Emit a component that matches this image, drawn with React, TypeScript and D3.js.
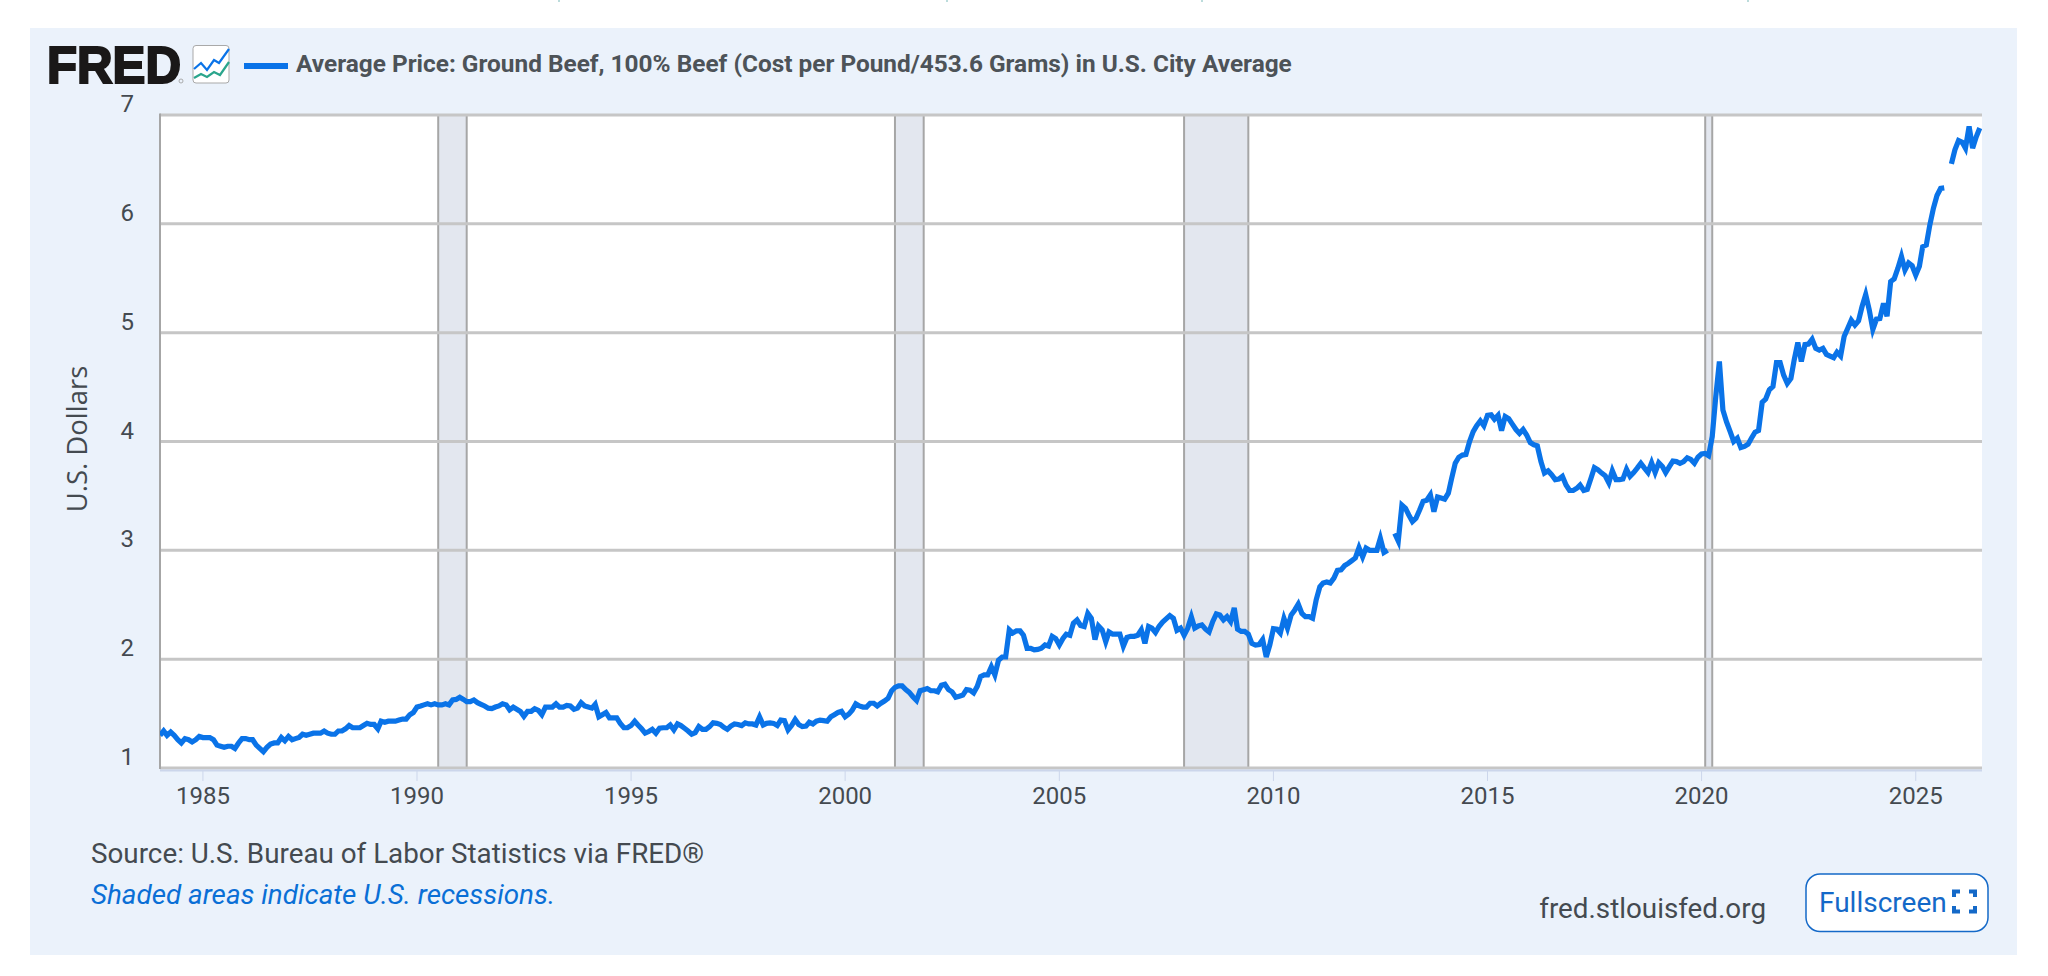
import React from 'react';
import * as d3 from 'd3';

const titleText = 'Average Price: Ground Beef, 100% Beef (Cost per Pound/453.6 Grams) in U.S. City Average';
const sourceText = 'Source: U.S. Bureau of Labor Statistics via FRED®';
const noteText = 'Shaded areas indicate U.S. recessions.';

const yTicks = [1, 2, 3, 4, 5, 6, 7];
const xTickYears = [1985, 1990, 1995, 2000, 2005, 2010, 2015, 2020, 2025];

// NBER recessions, [start, end] as yyyy-mm
const recessions = [
  ['1990-07', '1991-03'],
  ['2001-03', '2001-11'],
  ['2007-12', '2009-06'],
  ['2020-02', '2020-04'],
];

// monthly prices starting at Jan of the first year, one row per year
const prices1980s = [
  1.30, 1.34, 1.30, 1.33, 1.30, 1.26, 1.23, 1.27, 1.26, 1.24, 1.26, 1.29,
  1.28, 1.28, 1.28, 1.26, 1.21, 1.20, 1.19, 1.20, 1.20, 1.18, 1.23, 1.27,
  1.27, 1.26, 1.26, 1.21, 1.18, 1.15, 1.19, 1.22, 1.23, 1.23, 1.28, 1.25,
  1.29, 1.26, 1.27, 1.28, 1.31, 1.30, 1.31, 1.32, 1.32, 1.32, 1.34, 1.32,
  1.31, 1.31, 1.34, 1.34, 1.36, 1.39, 1.37, 1.37, 1.37, 1.39, 1.41, 1.40,
  1.40, 1.36, 1.43, 1.42, 1.43, 1.43, 1.43, 1.44, 1.45, 1.45, 1.49, 1.51,
];
const prices1990s = [
  1.56, 1.57, 1.58, 1.59, 1.58, 1.59, 1.58, 1.58, 1.59, 1.58, 1.625, 1.63,
  1.65, 1.63, 1.61, 1.61, 1.625, 1.60, 1.585, 1.57, 1.55, 1.545, 1.56, 1.57,
  1.59, 1.58, 1.535, 1.56, 1.54, 1.52, 1.475, 1.52, 1.52, 1.545, 1.53, 1.49,
  1.56, 1.56, 1.56, 1.59, 1.56, 1.56, 1.575, 1.57, 1.54, 1.55, 1.60, 1.57,
  1.56, 1.55, 1.585, 1.47, 1.49, 1.51, 1.46, 1.46, 1.46, 1.41, 1.37, 1.37,
  1.39, 1.43, 1.395, 1.36, 1.32, 1.335, 1.355, 1.32, 1.365, 1.37, 1.37, 1.395,
  1.35, 1.405, 1.39, 1.365, 1.34, 1.31, 1.325, 1.38, 1.355, 1.355, 1.38, 1.415,
  1.41, 1.40, 1.375, 1.355, 1.385, 1.405, 1.40, 1.39, 1.415, 1.405, 1.405, 1.395,
  1.47, 1.395, 1.41, 1.415, 1.41, 1.39, 1.44, 1.435, 1.35, 1.39, 1.445, 1.40,
  1.38, 1.385, 1.42, 1.405, 1.43, 1.44, 1.435, 1.43, 1.47, 1.49, 1.51, 1.52,
];
const prices2000s = [
  1.47, 1.495, 1.53, 1.59, 1.57, 1.56, 1.56, 1.595, 1.595, 1.57, 1.595, 1.615,
  1.64, 1.71, 1.74, 1.755, 1.755, 1.72, 1.695, 1.655, 1.62, 1.71, 1.72, 1.73,
  1.71, 1.71, 1.70, 1.76, 1.77, 1.72, 1.70, 1.65, 1.66, 1.67, 1.72, 1.715,
  1.69, 1.75, 1.84, 1.855, 1.855, 1.93, 1.855, 1.99, 2.02, 2.02, 2.27, 2.24,
  2.26, 2.26, 2.22, 2.10, 2.10, 2.085, 2.09, 2.10, 2.13, 2.12, 2.21, 2.19,
  2.13, 2.19, 2.23, 2.22, 2.33, 2.36, 2.31, 2.30, 2.42, 2.375, 2.18, 2.305,
  2.27, 2.16, 2.25, 2.23, 2.23, 2.23, 2.12, 2.20, 2.21, 2.21, 2.22, 2.27,
  2.145, 2.30, 2.285, 2.245, 2.30, 2.34, 2.37, 2.40, 2.375, 2.265, 2.285, 2.22,
  2.285, 2.39, 2.285, 2.305, 2.315, 2.275, 2.25, 2.345, 2.415, 2.405, 2.36, 2.39,
  2.345, 2.47, 2.275, 2.255, 2.255, 2.23, 2.145, 2.13, 2.135, 2.18, 2.02, 2.13,
];
// Oct 2012 and Oct 2025 have no observation
const prices2010s: (number | null)[] = [
  2.28, 2.275, 2.24, 2.375, 2.285, 2.405, 2.45, 2.505, 2.42, 2.39, 2.39, 2.375,
  2.545, 2.665, 2.70, 2.71, 2.70, 2.745, 2.815, 2.82, 2.86, 2.88, 2.905, 2.93,
  3.025, 2.94, 3.02, 3.00, 3.00, 3.00, 3.11, 2.98, 3.00, null, 3.155, 3.085,
  3.415, 3.385, 3.325, 3.265, 3.295, 3.37, 3.45, 3.46, 3.51, 3.355, 3.49, 3.48,
  3.47, 3.525, 3.66, 3.80, 3.855, 3.875, 3.88, 4.00, 4.09, 4.145, 4.19, 4.145,
  4.24, 4.245, 4.205, 4.24, 4.10, 4.23, 4.21, 4.16, 4.11, 4.075, 4.11, 4.06,
  3.99, 3.97, 3.96, 3.815, 3.71, 3.73, 3.695, 3.65, 3.655, 3.68, 3.60, 3.55,
  3.55, 3.57, 3.60, 3.55, 3.56, 3.66, 3.76, 3.74, 3.71, 3.685, 3.62, 3.73,
  3.65, 3.65, 3.655, 3.745, 3.68, 3.715, 3.755, 3.80, 3.755, 3.715, 3.805, 3.715,
  3.805, 3.77, 3.715, 3.77, 3.82, 3.815, 3.80, 3.815, 3.85, 3.835, 3.80, 3.855,
];
const prices2020s: (number | null)[] = [
  3.885, 3.89, 3.87, 4.045, 4.41, 4.735, 4.29, 4.18, 4.09, 4.00, 4.03, 3.945,
  3.955, 3.975, 4.03, 4.085, 4.10, 4.36, 4.39, 4.475, 4.505, 4.725, 4.725, 4.61,
  4.535, 4.58, 4.75, 4.91, 4.735, 4.89, 4.895, 4.94, 4.855, 4.84, 4.855, 4.80,
  4.785, 4.77, 4.82, 4.785, 4.965, 5.04, 5.115, 5.07, 5.11, 5.24, 5.35, 5.21,
  5.03, 5.125, 5.13, 5.27, 5.15, 5.47, 5.495, 5.59, 5.70, 5.575, 5.64, 5.615,
  5.53, 5.61, 5.79, 5.805, 5.99, 6.145, 6.26, 6.325, 6.33, null, 6.55, 6.68,
  6.765, 6.75, 6.695, 6.895, 6.695, 6.80, 6.88,
];

const prices: (number | null)[] = [...prices1980s, ...prices1990s, ...prices2000s, ...prices2010s, ...prices2020s];
const series = prices.map((value, i) => ({ date: new Date(1984, i, 1), value }));

const width = 2048;
const height = 976;
const plot = { left: 160, right: 1982, top: 115, bottom: 768 };

const parseMonth = d3.timeParse('%Y-%m');

const x = d3.scaleTime()
  .domain([new Date(1984, 0, 1), new Date(2026, 6, 20)])
  .range([plot.left, plot.right]);
const y = d3.scaleLinear().domain([1, 7]).range([plot.bottom, plot.top]);

const line = d3.line<{ date: Date; value: number | null }>()
  .defined(d => d.value !== null)
  .x(d => x(d.date))
  .y(d => y(d.value as number));

const sans = 'Roboto, sans-serif';
const open = '"Open Sans", sans-serif';
const lineColor = '#0a73e8';
const textColor = '#444a50';

const App: React.FC = () => (
  <svg width={width} height={height} style={{ position: 'absolute', left: 0, top: 0 }}>
    <rect width={width} height={height} fill="#ffffff" />
    {[559, 947, 1202, 1748].map(d => (
      <rect key={d} x={d - 1} y={0} width={2} height={2} fill="#bcdcdc" />
    ))}
    <rect x={30} y={28} width={1987} height={927} fill="#ebf2fb" />

    {/* header */}
    <text x={47} y={83} fontFamily='"Liberation Sans", sans-serif' fontWeight={700} fontSize={52}
      textLength={134} lengthAdjust="spacingAndGlyphs" stroke="#1a1818" strokeWidth={2.2} fill="#1a1818">FRED</text>
    <circle cx={181} cy={81} r={2} fill="none" stroke="#9a9a9a" strokeWidth={0.8} />
    <rect x={193} y={45.5} width={36} height={37.5} rx={3} fill="#ffffff" stroke="#a9a9a9" strokeWidth={1} />
    <path d="M194,69 L201,63 L207,70 L214,60 L219,63 L229,49" fill="none" stroke={lineColor} strokeWidth={2.2} />
    <path d="M194,78 L201,74 L207,77 L214,72 L220,75 L229,62" fill="none" stroke="#2aa58c" strokeWidth={2.2} />
    <rect x={244} y={63} width={44} height={6} fill={lineColor} />
    <text x={296} y={72} fontFamily={sans} fontWeight={700} fontSize={24.4} fill="#4d5358">{titleText}</text>

    {/* plot */}
    <rect x={plot.left} y={plot.top} width={plot.right - plot.left} height={plot.bottom - plot.top} fill="#ffffff" />
    {recessions.map(([start, end]) => {
      const x0 = x(parseMonth(start) as Date);
      const x1 = x(parseMonth(end) as Date);
      return (
        <g key={start}>
          <rect x={x0} y={plot.top} width={x1 - x0} height={plot.bottom - plot.top} fill="#e3e7ef" />
          <line x1={x0} x2={x0} y1={plot.top} y2={plot.bottom} stroke="#a6a6a6" strokeWidth={2} />
          <line x1={x1} x2={x1} y1={plot.top} y2={plot.bottom} stroke="#a6a6a6" strokeWidth={2} />
        </g>
      );
    })}
    {yTicks.map(t => (
      <g key={t}>
        <line x1={plot.left} x2={plot.right} y1={y(t)} y2={y(t)} stroke="#c6c6c6" strokeWidth={3} />
        <text x={134} y={y(t) - 3} textAnchor="end" fontFamily={sans} fontSize={24} fill={textColor}>{t}</text>
      </g>
    ))}
    <line x1={plot.left} x2={plot.left} y1={plot.top - 1.5} y2={plot.bottom + 1} stroke="#a6a6a6" strokeWidth={2} />
    <line x1={plot.left} x2={plot.right} y1={plot.bottom + 2.5} y2={plot.bottom + 2.5} stroke="#ccd6eb" strokeWidth={2} />
    {xTickYears.map(year => {
      const px = x(new Date(year, 0, 1));
      return (
        <g key={year}>
          <line x1={px} x2={px} y1={plot.bottom + 3} y2={plot.bottom + 13} stroke="#ccd6eb" strokeWidth={1} />
          <text x={px} y={804} textAnchor="middle" fontFamily={sans} fontSize={24} fill={textColor}>{year}</text>
        </g>
      );
    })}
    <text transform="translate(87,439) rotate(-90)" textAnchor="middle" fontFamily={open} fontSize={27.5} fill={textColor}>U.S. Dollars</text>

    <clipPath id="plot-clip">
      <rect x={plot.left} y={plot.top - 5} width={plot.right - plot.left} height={plot.bottom - plot.top + 10} />
    </clipPath>
    <path d={line(series) ?? ''} fill="none" stroke={lineColor} strokeWidth={5.2} strokeLinejoin="miter"
      clipPath="url(#plot-clip)" />

    {/* footer */}
    <text x={91} y={863} fontFamily={sans} fontSize={27.8} fill={textColor}>{sourceText}</text>
    <text x={91} y={904} fontFamily={sans} fontSize={27.8} fontStyle="italic" fill="#0a6fd6">{noteText}</text>
    <text x={1766} y={918} textAnchor="end" fontFamily={sans} fontSize={27.8} fill={textColor}>fred.stlouisfed.org</text>
    <rect x={1806} y={874} width={182} height={57.5} rx={14} fill="#ffffff" stroke="#1469c8" strokeWidth={1.5} />
    <text x={1819} y={912} fontFamily={sans} fontSize={28} fill="#1469c8">Fullscreen</text>
    <path d="M1954,897 v-5.5 h6 M1969,891.5 h6 v5.5 M1954,906 v5.5 h6 M1969,911.5 h6 v-5.5" fill="none" stroke="#1469c8" strokeWidth={4} />
  </svg>
);

export default App;
